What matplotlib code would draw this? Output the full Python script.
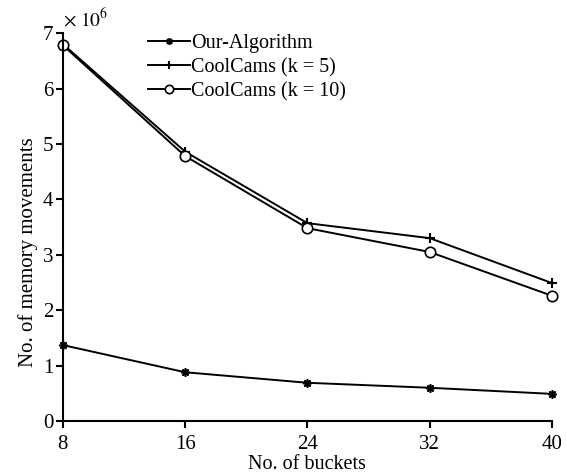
import numpy as np
import matplotlib
matplotlib.use("Agg")
import matplotlib.pyplot as plt

plt.rcParams['font.family'] = ['Liberation Serif', 'DejaVu Serif']
plt.rcParams['mathtext.fontset'] = 'stix'

# data (values x 1e6)
buckets = [8, 16, 24, 32, 40]
our_alg = [1.37, 0.88, 0.69, 0.60, 0.49]
coolcams_k5 = [6.80, 4.86, 3.57, 3.30, 2.49]
coolcams_k10 = [6.78, 4.78, 3.48, 3.05, 2.26]

fig = plt.figure(figsize=(5.67, 4.76), dpi=100)
ax = fig.add_axes([0.111, 0.1155, 0.8624, 0.815])

ax.plot(buckets, np.array(our_alg) * 1e6, color='black', lw=1.4, clip_on=False,
        marker=(8, 2, 0), ms=6, mew=1.2, label='Our-Algorithm')
ax.plot(buckets, np.array(coolcams_k5) * 1e6, color='black', lw=1.4, clip_on=False,
        marker='+', ms=7, mew=1.5, label='CoolCams (k = 5)')
ax.plot(buckets, np.array(coolcams_k10) * 1e6, color='black', lw=1.4, clip_on=False,
        marker='o', ms=7.5, mfc='white', mew=1.2, label='CoolCams (k = 10)')

ax.set_xlim(8, 40)
ax.set_ylim(0, 7e6)
ax.set_xticks(buckets)
ax.set_yticks(np.arange(0, 8) * 1e6)
ax.set_yticklabels([str(i) for i in range(8)])
ax.text(0.0, 1.008, r'$\times\ 10^6$', transform=ax.transAxes, fontsize=14, ha='left', va='bottom')

for s in ['top', 'right']:
    ax.spines[s].set_visible(False)
for s in ['left', 'bottom']:
    ax.spines[s].set_linewidth(1.5)
ax.tick_params(direction='out', width=1.5, length=5, labelsize=15)
ax.tick_params(axis='x', pad=5)
ax.tick_params(axis='y', pad=2)

ax.set_xlabel('No. of buckets', fontsize=14.5, labelpad=1)
ax.set_ylabel('No. of memory movements', fontsize=15)
ax.yaxis.set_label_coords(-0.052, 0.435)

leg = ax.legend(loc='upper left', bbox_to_anchor=(0.137, 1.045), frameon=False,
                fontsize=14.5, handlelength=2.1, handletextpad=0.05, labelspacing=0.25,
                markerscale=0.8)

fig.savefig('out.png', dpi=100)
